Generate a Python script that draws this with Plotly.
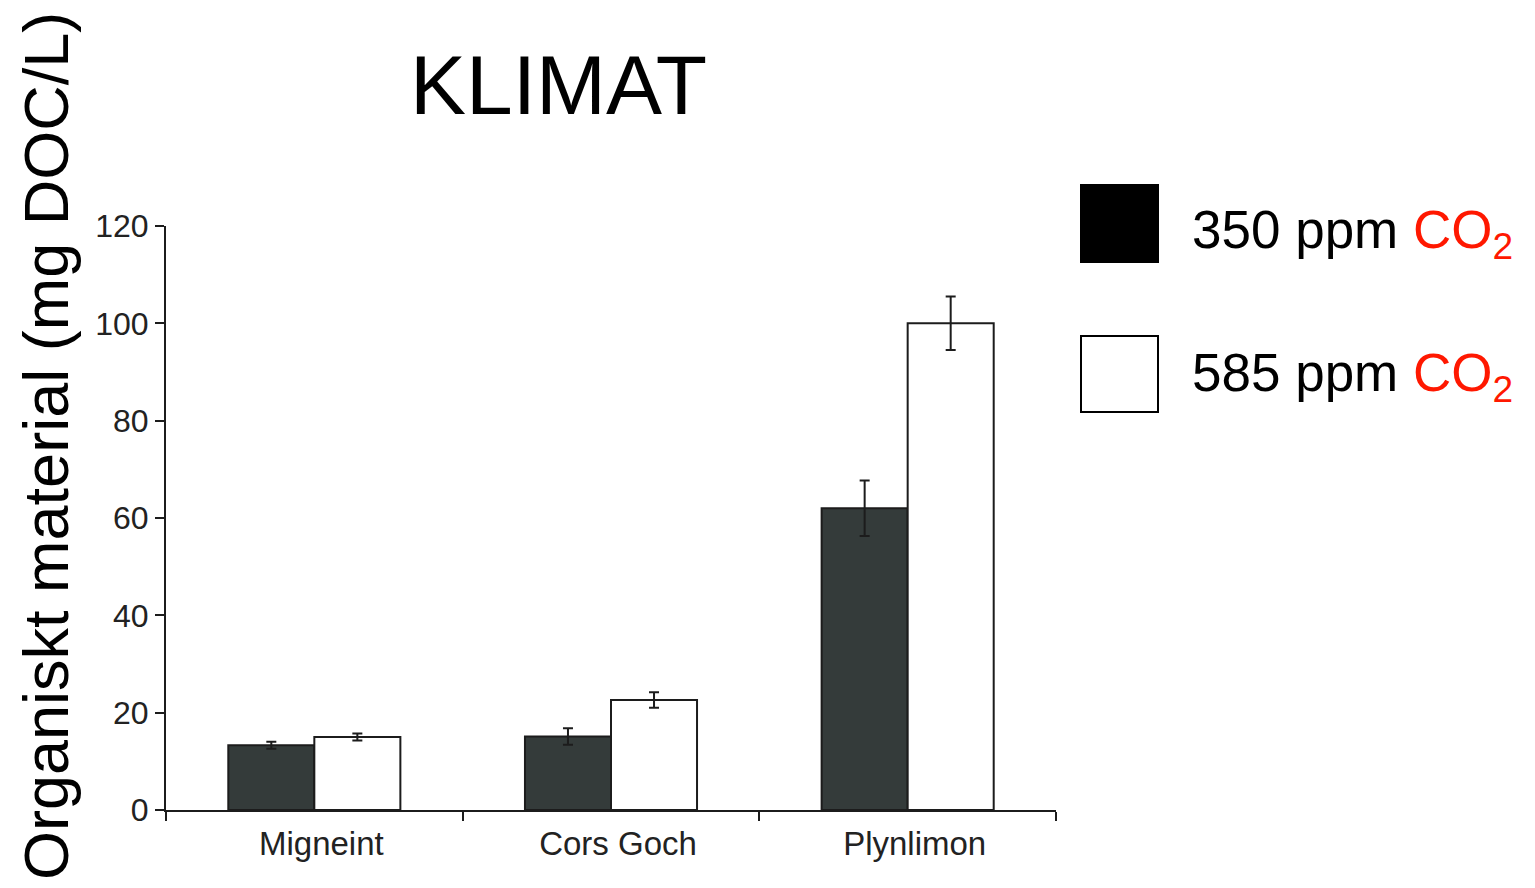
import plotly.graph_objects as go

# Sites and DOC concentrations (mg DOC/L) under two CO2 levels
sites = ["Migneint", "Cors Goch", "Plynlimon"]
series_names = ["350 ppm", "585 ppm"]
doc_350 = [13.3, 15.1, 62.0]
err_350 = [0.7, 1.7, 5.7]
doc_585 = [15.0, 22.6, 100.0]
err_585 = [0.7, 1.6, 5.5]
y_ticks = [0, 20, 40, 60, 80, 100, 120]

FONT = "Liberation Sans, Arial, Helvetica, sans-serif"
W, H = 1535, 888
L, R, T, B = 166, 1056, 226, 810  # plot area in pixels


def px_x(x):
    return (x - L) / (R - L)


def px_y(y):
    return (B - y) / (B - T)


edge = "#1c1c1c"
fig = go.Figure()
fig.add_trace(go.Bar(
    x=sites, y=doc_350, name=series_names[0],
    marker=dict(color="#343b3a", line=dict(color=edge, width=2)),
    error_y=dict(type="data", array=err_350, color=edge, thickness=2, width=5),
))
fig.add_trace(go.Bar(
    x=sites, y=doc_585, name=series_names[1],
    marker=dict(color="#ffffff", line=dict(color=edge, width=2)),
    error_y=dict(type="data", array=err_585, color=edge, thickness=2, width=5),
))

fig.update_layout(
    width=W, height=H,
    margin=dict(l=L, r=W - R, t=T, b=H - B, pad=0),
    paper_bgcolor="white", plot_bgcolor="white",
    barmode="group", bargap=0.42, bargroupgap=0,
    showlegend=False,
    font=dict(family=FONT, color="#222222"),
    xaxis=dict(
        type="category", range=[-0.5, 2.5],
        showline=True, linecolor=edge, linewidth=2,
        ticks="outside", tickson="boundaries", ticklen=9, tickwidth=2, tickcolor=edge,
        ticklabelshift=7, ticklabelstandoff=3,
        tickfont=dict(size=33, color="#222222"), showgrid=False, zeroline=False,
    ),
    yaxis=dict(
        range=[0, 120], tickvals=y_ticks,
        showline=True, linecolor=edge, linewidth=2,
        ticks="outside", ticklen=9, tickwidth=2, tickcolor=edge,
        tickfont=dict(size=32, color="#222222"), showgrid=False, zeroline=False,
    ),
)

annotations = [
    dict(text="KLIMAT", xref="paper", yref="paper", x=px_x(558), y=px_y(85),
         xanchor="center", yanchor="middle", showarrow=False,
         font=dict(size=84, color="black", family=FONT)),
    dict(text="Organiskt material (mg DOC/L)", xref="paper", yref="paper",
         x=px_x(46), y=px_y(446), xanchor="center", yanchor="middle",
         textangle=-90, showarrow=False, borderpad=0,
         font=dict(size=63, color="black", family=FONT)),
]

# Legend drawn as large swatches with labels
swatches = [(185, 262, "black"), (336, 412, "white")]
label_y = [233, 376]
shapes = []
for (top, bottom, fill), name, ly in zip(swatches, series_names, label_y):
    shapes.append(dict(type="rect", xref="paper", yref="paper",
                       x0=px_x(1081), x1=px_x(1158), y0=px_y(bottom), y1=px_y(top),
                       fillcolor=fill, line=dict(color="black", width=2)))
    annotations.append(dict(
        text=f"{name} <span style='color:#ff1800'>CO<sub>2</sub></span>",
        xref="paper", yref="paper", x=px_x(1190), y=px_y(ly),
        xanchor="left", yanchor="middle", showarrow=False,
        font=dict(size=53, color="black", family=FONT)))

fig.update_layout(annotations=annotations, shapes=shapes)
fig.write_html("out.html")
